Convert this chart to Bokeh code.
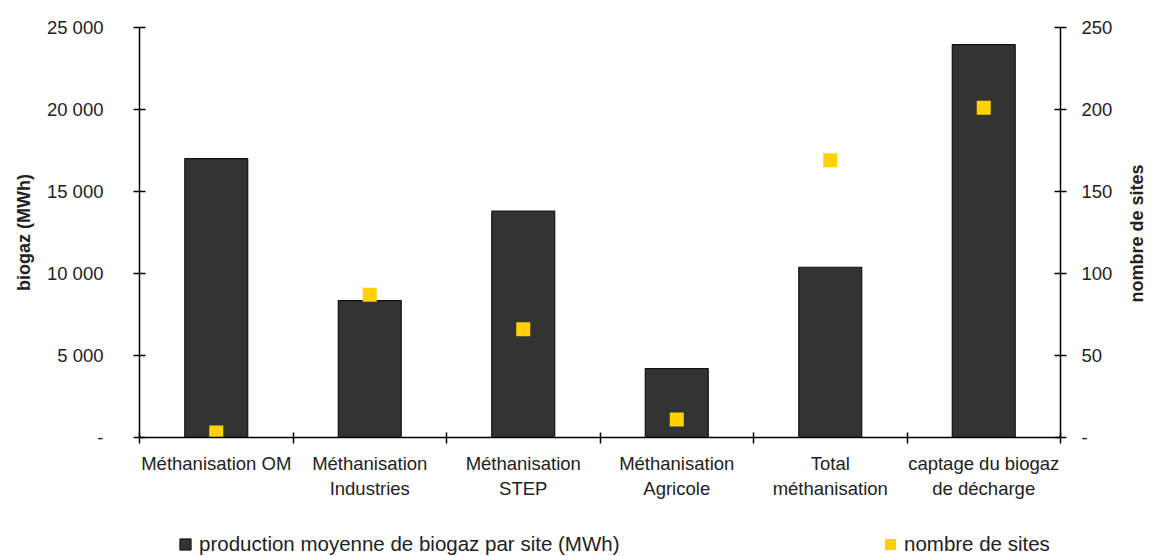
import math
from bokeh.plotting import figure
from bokeh.layouts import column
from bokeh.models import (Range1d, LinearAxis, FixedTicker, Legend, LegendItem)
from bokeh.embed import file_html
from bokeh.resources import INLINE

categories = ["Méthanisation OM", "Méthanisation\nIndustries", "Méthanisation\nSTEP",
              "Méthanisation\nAgricole", "Total\nméthanisation", "captage du biogaz\nde décharge"]
production = [17000, 8350, 13800, 4200, 10380, 23950]
sites = [3, 87, 66, 11, 169, 201]
left_ticks = [0, 5000, 10000, 15000, 20000, 25000]
left_labels = ["-", "5 000", "10 000", "15 000", "20 000", "25 000"]
right_ticks = [0, 50, 100, 150, 200, 250]
right_labels = ["-", "50", "100", "150", "200", "250"]

n = len(categories)
centers = [i + 0.5 for i in range(n)]
bounds = [float(i) for i in range(n + 1)]

FONT = "Liberation Sans"
TXT = "#222222"
BAR = "#333333"
YEL = "#FFD200"

p = figure(width=1160, height=520, output_backend="svg", toolbar_location=None,
           x_range=Range1d(0, n), y_range=Range1d(0, 25000),
           min_border_left=139, min_border_right=100, min_border_top=27, min_border_bottom=83,
           outline_line_color=None)
p.xgrid.visible = False
p.ygrid.visible = False
p.extra_y_ranges = {"sites": Range1d(0, 250)}

bars = p.vbar(x=centers, top=production, width=0.41, fill_color=BAR,
              line_color="#111111", line_width=1.2)
pts = p.scatter(x=centers, y=sites, y_range_name="sites", marker="square", size=14,
                fill_color=YEL, line_color=None)

def style_axis(ax):
    ax.axis_line_color = "black"
    ax.axis_line_width = 1.5
    ax.major_tick_line_color = "black"
    ax.major_tick_line_width = 1.5
    ax.minor_tick_line_color = "black"
    ax.minor_tick_line_width = 1.5
    ax.major_label_text_font = FONT
    ax.major_label_text_font_size = "18.5px"
    ax.major_label_text_color = TXT
    ax.axis_label_text_font = FONT
    ax.axis_label_text_font_size = "18px"
    ax.axis_label_text_font_style = "bold"
    ax.axis_label_text_color = TXT

# x axis
xa = p.xaxis[0]
style_axis(xa)
xa.ticker = FixedTicker(ticks=centers, minor_ticks=bounds)
xa.major_label_overrides = {c: lab for c, lab in zip(centers, categories)}
xa.major_tick_in = 0
xa.major_tick_out = 0
xa.minor_tick_in = 5
xa.minor_tick_out = 6
xa.major_label_standoff = 9

# left axis
ya = p.yaxis[0]
style_axis(ya)
ya.ticker = FixedTicker(ticks=left_ticks, minor_ticks=[])
ya.major_label_overrides = {t: l for t, l in zip(left_ticks, left_labels)}
ya.major_tick_in = 6
ya.major_tick_out = 6
ya.minor_tick_in = 0
ya.minor_tick_out = 0
ya.major_label_standoff = 30
ya.axis_label = "biogaz (MWh)"
ya.axis_label_standoff = 10

# right axis (ticks and numbers)
ra = LinearAxis(y_range_name="sites")
style_axis(ra)
ra.ticker = FixedTicker(ticks=right_ticks, minor_ticks=[])
ra.major_label_overrides = {t: l for t, l in zip(right_ticks, right_labels)}
ra.major_tick_in = 6
ra.major_tick_out = 6
ra.minor_tick_in = 0
ra.minor_tick_out = 0
ra.major_label_standoff = 15
p.add_layout(ra, "right")

# right axis title, read bottom-to-top, carried by a bare axis
rt = LinearAxis(y_range_name="sites")
style_axis(rt)
rt.ticker = FixedTicker(ticks=[], minor_ticks=[])
rt.axis_line_color = None
rt.major_tick_line_color = None
rt.minor_tick_line_color = None
rt.axis_label = "\u00a0" * 27 + "nombre de sites"
rt.axis_label_standoff = 21
rt.axis_label_orientation = math.pi / 2
rt.axis_label_align = "start"
p.add_layout(rt, "right")

# legend strip below the chart (hidden renderers: only their legend entries show)
lf = figure(width=1160, height=36, output_backend="svg", toolbar_location=None,
            x_range=Range1d(0, n), y_range=Range1d(0, 25000), x_axis_type=None, y_axis_type=None,
            min_border=0, outline_line_color=None)
lf.xgrid.visible = False
lf.ygrid.visible = False
r_bar = lf.vbar(x=centers, top=production, width=0.4, fill_color=BAR, line_color="#111111",
                line_width=1, visible=False)
r_sq = lf.vbar(x=centers, top=sites, width=0.4, fill_color=YEL, line_color=None, visible=False)

common = dict(orientation="horizontal", label_text_font=FONT, label_text_font_size="20.5px",
              label_text_color=TXT, glyph_width=14, glyph_height=14, label_standoff=7,
              border_line_color=None, background_fill_alpha=0, padding=0, margin=0,
              inactive_fill_alpha=0)
leg1 = Legend(items=[LegendItem(label="production moyenne de biogaz par site (MWh)", renderers=[r_bar])],
              location=(39, 0), **common)
leg2 = Legend(items=[LegendItem(label="nombre de sites", renderers=[r_sq])],
              location=(744, 0), **common)
lf.add_layout(leg1, "center")
lf.add_layout(leg2, "center")

open("out.html", "w").write(file_html(column(p, lf, spacing=0), INLINE))
